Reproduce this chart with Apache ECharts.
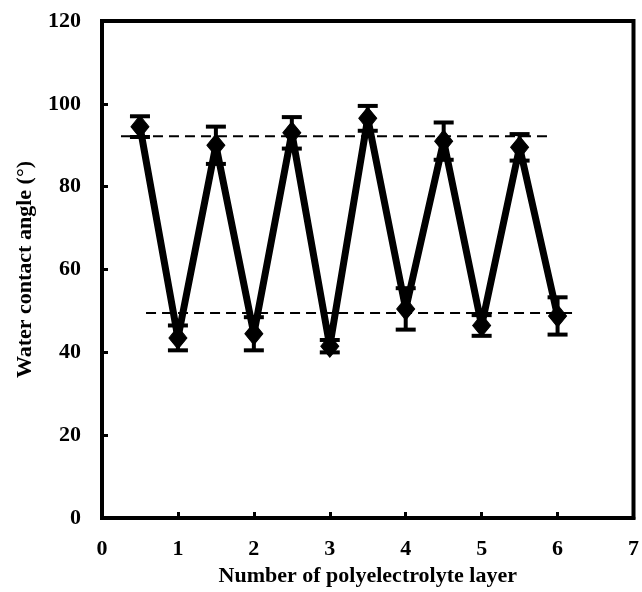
<!DOCTYPE html>
<html>
<head>
<meta charset="utf-8">
<script src="https://cdn.jsdelivr.net/npm/echarts@6/dist/echarts.min.js"></script>
<style>
  html, body { margin: 0; padding: 0; background: #fff; }
  #chart { width: 642px; height: 592px; }
</style>
</head>
<body>
<div id="chart"></div>
<script>
// Layer number (half layers are the alternating polyelectrolyte deposits)
const layers = [0.5, 1, 1.5, 2, 2.5, 3, 3.5, 4, 4.5, 5, 5.5, 6];
// Water contact angle (degrees) and standard deviation
const angles = [94.5, 43.5, 90, 44.5, 93, 41.5, 96.5, 50.5, 91, 46.5, 89.5, 48.8];
const errors = [2.5, 3, 4.5, 4, 3.8, 1.5, 3, 5, 4.5, 2.5, 3.2, 4.5];
// Reference levels for the two outer-layer types
const upperLevel = 92.2;
const upperRange = [0.25, 5.87];
const lowerLevel = 49.5;
const lowerRange = [0.58, 6.21];
// Axis ticks
const xTicks = { min: 0, max: 7, step: 1 };
const yTicks = { min: 0, max: 120, step: 20 };

const FONT = '"Liberation Serif", "Times New Roman", serif';
const textStyle = { fontFamily: FONT, fontWeight: 'bold', fontSize: 22, color: '#000' };

const pointData = layers.map((x, i) => [x, angles[i]]);
const errorData = layers.map((x, i) => [x, angles[i] - errors[i], angles[i] + errors[i]]);

const chart = echarts.init(document.getElementById('chart'), null, { renderer: 'canvas' });

chart.setOption({
  animation: false,
  backgroundColor: '#fff',
  grid: {
    left: 102, right: 5, top: 21, bottom: 72,
    show: true, borderColor: '#000', borderWidth: 4, backgroundColor: 'transparent'
  },
  xAxis: {
    type: 'value',
    min: xTicks.min, max: xTicks.max, interval: xTicks.step,
    name: 'Number of polyelectrolyte layer',
    nameLocation: 'middle', nameGap: 46,
    nameTextStyle: textStyle,
    axisLine: { show: true, lineStyle: { color: '#000', width: 4 } },
    axisTick: { show: true, inside: true, length: 6, lineStyle: { color: '#000', width: 3 } },
    axisLabel: Object.assign({ margin: 20 }, textStyle),
    splitLine: { show: false }
  },
  yAxis: {
    type: 'value',
    min: yTicks.min, max: yTicks.max, interval: yTicks.step,
    name: 'Water contact angle (°)',
    nameLocation: 'middle', nameGap: 66,
    nameTextStyle: textStyle,
    axisLine: { show: true, lineStyle: { color: '#000', width: 4 } },
    axisTick: { show: true, inside: true, length: 6, lineStyle: { color: '#000', width: 3 } },
    axisLabel: Object.assign({ margin: 21 }, textStyle),
    splitLine: { show: false }
  },
  series: [
    {
      type: 'line',
      data: upperRange.map(x => [x, upperLevel]),
      symbol: 'none',
      lineStyle: { color: '#000', width: 2, type: [10, 6] },
      z: 1
    },
    {
      type: 'line',
      data: lowerRange.map(x => [x, lowerLevel]),
      symbol: 'none',
      lineStyle: { color: '#000', width: 2, type: [10, 6] },
      z: 1
    },
    {
      type: 'line',
      data: pointData,
      symbol: 'diamond',
      symbolSize: [18, 22],
      itemStyle: { color: '#000', borderColor: '#000' },
      lineStyle: { color: '#000', width: 7 },
      z: 3
    },
    {
      type: 'custom',
      data: errorData,
      encode: { x: 0, y: [1, 2] },
      renderItem: function (params, api) {
        const x = api.value(0);
        const lo = api.coord([x, api.value(1)]);
        const hi = api.coord([x, api.value(2)]);
        const half = 10;
        const style = { stroke: '#000', lineWidth: 4 };
        return {
          type: 'group',
          children: [
            { type: 'line', shape: { x1: lo[0], y1: lo[1], x2: hi[0], y2: hi[1] }, style: style },
            { type: 'line', shape: { x1: lo[0] - half, y1: lo[1], x2: lo[0] + half, y2: lo[1] }, style: style },
            { type: 'line', shape: { x1: hi[0] - half, y1: hi[1], x2: hi[0] + half, y2: hi[1] }, style: style }
          ]
        };
      },
      z: 4
    }
  ]
});
</script>
</body>
</html>
